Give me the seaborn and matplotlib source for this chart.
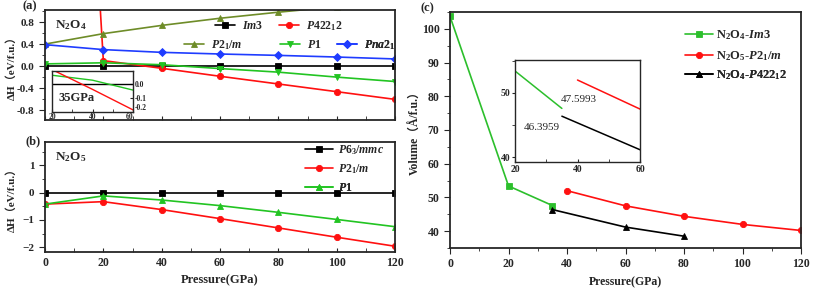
import numpy as np
import pandas as pd
import matplotlib
matplotlib.use("Agg")
import matplotlib.pyplot as plt
from matplotlib.ticker import MultipleLocator
import seaborn as sns

# ---------------- data ----------------
pressure = [0, 20, 40, 60, 80, 100, 120]

# (a) N2O4 enthalpy differences (eV/f.u.)
a_im3 = [0.0, 0.0, 0.0, 0.0, 0.0, 0.0, 0.0]
a_p4222 = [18.0, 0.10, -0.04, -0.185, -0.325, -0.465, -0.605]
a_p21m = [0.40, 0.59, 0.74, 0.87, 0.98, 1.08, 1.18]
a_p1 = [0.04, 0.06, 0.025, -0.045, -0.11, -0.20, -0.28]
a_pna21 = [0.39, 0.30, 0.25, 0.22, 0.195, 0.165, 0.13]

# (b) N2O5 enthalpy differences (eV/f.u.)
b_p63mmc = [0.0, 0.0, 0.0, 0.0, 0.0, 0.0, 0.0]
b_p21m = [-0.42, -0.33, -0.62, -0.95, -1.29, -1.63, -1.96]
b_p1 = [-0.42, -0.12, -0.27, -0.475, -0.72, -0.98, -1.245]

# (c) volumes (A^3/f.u.)
c_im3_p = [0, 20, 35]
c_im3_v = [103.7, 53.4, 47.5993]
c_p21m_p = [40, 60, 80, 100, 120]
c_p21m_v = [52.0, 47.5, 44.4, 42.0, 40.2]
c_p4222_p = [35, 60, 80]
c_p4222_v = [46.3959, 41.2, 38.5]

labels_a = [r"$\mathit{Im3}$", r"$\mathit{P422_12}$", r"$\mathit{P2_1/m}$",
            r"$\mathit{P1}$", r"$\mathit{Pna2_1}$"]
labels_b = [r"$\mathit{P6_3/mmc}$", r"$\mathit{P2_1/m}$", r"$\mathit{P1}$"]
labels_c = [r"N$_2$O$_4$-$\mathit{Im3}$", r"N$_2$O$_5$-$\mathit{P2_1/m}$",
            r"N$_2$O$_4$-$\mathit{P422_12}$"]

# ---------------- style ----------------
sns.set_style("ticks")
plt.rcParams["font.family"] = ["Liberation Serif", "Noto Sans CJK SC"]
plt.rcParams["font.weight"] = "bold"
plt.rcParams["axes.labelweight"] = "bold"
plt.rcParams["mathtext.fontset"] = "custom"
plt.rcParams["mathtext.rm"] = "Liberation Serif:bold"
plt.rcParams["mathtext.it"] = "Liberation Serif:italic:bold"
plt.rcParams["mathtext.bf"] = "Liberation Serif:bold"
plt.rcParams["axes.linewidth"] = 1.3

BLACK = "#000000"
RED = "#ff1010"
OLIVE = "#6e8c28"
GREEN = "#22c422"
BLUE = "#1f3cff"
CGREEN = "#2cbf2c"

W, H = 813, 292
fig = plt.figure(figsize=(W / 100, H / 100), dpi=100)


def rect(l, t, r, b):
    return [l / W, 1 - b / H, (r - l) / W, (b - t) / H]


def draw(ax, x, y, color, marker=None, ms=4.5, lw=1.2):
    kw = dict(marker=marker, markersize=ms, markeredgecolor=color,
              markeredgewidth=0.6) if marker else {}
    sns.lineplot(x=x, y=y, ax=ax, color=color, linewidth=lw, legend=False,
                 errorbar=None, sort=False, **kw)
    return ax.lines[-1]


def entry(ax, handle, label, px, py, hl=1.7, pad=0.6, fs=8.5):
    leg = ax.legend([handle], [label], loc="center left",
                    bbox_to_anchor=(px / W, 1 - py / H),
                    bbox_transform=fig.transFigure, frameon=False,
                    borderpad=0, borderaxespad=0, handlelength=hl,
                    handletextpad=pad, prop={"size": fs, "weight": "bold"})
    ax.add_artist(leg)


# ---------------- panel (a) ----------------
ax_a = fig.add_axes(rect(45, 10, 395, 120))
h_im3 = draw(ax_a, pressure, a_im3, BLACK, "s")
h_p4222 = draw(ax_a, pressure, a_p4222, RED, "o")
h_p21m = draw(ax_a, pressure, a_p21m, OLIVE, "^")
h_p1 = draw(ax_a, pressure, a_p1, GREEN, "v")
h_pna = draw(ax_a, pressure, a_pna21, BLUE, "D", ms=4)
ax_a.set_xlim(0, 120)
ax_a.set_ylim(-0.98, 1.02)
ax_a.set_yticks([-0.8, -0.4, 0.0, 0.4, 0.8])
ax_a.set_yticklabels(["-0.8", "-0.4", "0.0", "0.4", "0.8"])
ax_a.yaxis.set_minor_locator(MultipleLocator(0.2))
ax_a.xaxis.set_major_locator(MultipleLocator(20))
ax_a.xaxis.set_minor_locator(MultipleLocator(10))
ax_a.tick_params(axis="x", which="both", direction="in", length=3,
                 labelbottom=False)
ax_a.tick_params(axis="y", which="major", direction="out", length=4,
                 labelsize=8)
ax_a.tick_params(axis="y", which="minor", direction="out", length=2)
ax_a.set_xlabel("")
ax_a.set_ylabel("ΔH（eV/f.u.）", fontsize=8, weight="bold")
ax_a.yaxis.set_label_coords(-0.082, 0.5)
ax_a.text(55 / W, 1 - 25 / H, r"N$_2$O$_4$", transform=fig.transFigure,
          fontsize=9.5, weight="bold", va="center", ha="left")
entry(ax_a, h_im3, labels_a[0], 215, 26)
entry(ax_a, h_p4222, labels_a[1], 279, 26)
entry(ax_a, h_p21m, labels_a[2], 184, 45)
entry(ax_a, h_p1, labels_a[3], 280, 45)
entry(ax_a, h_pna, labels_a[4], 337, 45)

# inset (a)
ins_a = fig.add_axes(rect(52, 71, 133, 112))
ins_a.set_facecolor("white")
draw(ins_a, pressure, a_im3, BLACK, lw=1.0)
draw(ins_a, pressure, a_p1, GREEN, lw=1.0)
draw(ins_a, pressure, a_p4222, RED, lw=1.0)
ins_a.set_xlim(20, 60)
ins_a.set_ylim(-0.2, 0.09)
ins_a.set_xticks([20, 40, 60])
ins_a.set_xticklabels(["20", "40", "60"])
ins_a.xaxis.set_minor_locator(MultipleLocator(10))
ins_a.set_yticks([0.0, -0.1, -0.2])
ins_a.set_yticklabels(["0.0", "-0.1", "-0.2"])
ins_a.yaxis.tick_right()
ins_a.tick_params(axis="both", which="both", direction="in", length=2,
                  labelsize=5.5, pad=1)
ins_a.get_yticklabels()[-1].set_va("bottom")
ins_a.get_xticklabels()[-1].set_ha("right")
ins_a.set_xlabel("")
ins_a.set_ylabel("")
for s in ins_a.spines.values():
    s.set_linewidth(1.0)
ins_a.text(0.08, 0.35, "35GPa", transform=ins_a.transAxes, fontsize=9,
           weight="bold", va="center", ha="left")

# ---------------- panel (b) ----------------
ax_b = fig.add_axes(rect(45, 142, 395, 252))
hb0 = draw(ax_b, pressure, b_p63mmc, BLACK, "s")
hb1 = draw(ax_b, pressure, b_p21m, RED, "o")
hb2 = draw(ax_b, pressure, b_p1, GREEN, "^")
ax_b.set_xlim(0, 120)
ax_b.set_ylim(-2.17, 1.85)
ax_b.set_yticks([-2, -1, 0, 1])
ax_b.yaxis.set_minor_locator(MultipleLocator(0.5))
ax_b.xaxis.set_major_locator(MultipleLocator(20))
ax_b.xaxis.set_minor_locator(MultipleLocator(10))
ax_b.tick_params(axis="x", which="both", direction="in", length=3,
                 labelsize=8.5)
ax_b.tick_params(axis="y", which="major", direction="out", length=4,
                 labelsize=8)
ax_b.tick_params(axis="y", which="minor", direction="out", length=2)
ax_b.set_xlabel("Pressure(GPa)", fontsize=9, weight="bold")
ax_b.set_ylabel("ΔH（eV/f.u.）", fontsize=8, weight="bold")
ax_b.yaxis.set_label_coords(-0.082, 0.5)
ax_b.text(55 / W, 1 - 157 / H, r"N$_2$O$_5$", transform=fig.transFigure,
          fontsize=9.5, weight="bold", va="center", ha="left")
entry(ax_b, hb0, labels_b[0], 305, 150, hl=2.4, pad=0.4)
entry(ax_b, hb1, labels_b[1], 305, 169, hl=2.4, pad=0.4)
entry(ax_b, hb2, labels_b[2], 305, 188, hl=2.4, pad=0.4)

# ---------------- panel (c) ----------------
ax_c = fig.add_axes(rect(450, 12, 801, 248))
hc0 = draw(ax_c, c_im3_p, c_im3_v, CGREEN, "s")
hc1 = draw(ax_c, c_p21m_p, c_p21m_v, RED, "o")
hc2 = draw(ax_c, c_p4222_p, c_p4222_v, BLACK, "^")
ax_c.set_xlim(0, 120)
ax_c.set_ylim(35, 105)
ax_c.set_yticks([40, 50, 60, 70, 80, 90, 100])
ax_c.yaxis.set_minor_locator(MultipleLocator(5))
ax_c.xaxis.set_major_locator(MultipleLocator(20))
ax_c.xaxis.set_minor_locator(MultipleLocator(10))
ax_c.tick_params(axis="both", which="major", direction="out", length=4,
                 labelsize=8.5)
ax_c.tick_params(axis="both", which="minor", direction="out", length=2)
ax_c.set_xlabel("Pressure(GPa)", fontsize=8.5, weight="bold")
ax_c.set_ylabel("Volume（Å/f.u.）", fontsize=8.5, weight="bold")
ax_c.yaxis.set_label_coords(-0.082, 0.5)
entry(ax_c, hc0, labels_c[0], 685, 35, hl=2.2, pad=0.3, fs=9)
entry(ax_c, hc1, labels_c[1], 685, 56, hl=2.2, pad=0.3, fs=9)
entry(ax_c, hc2, labels_c[2], 685, 75, hl=2.2, pad=0.3, fs=9)

# inset (c)
ins_c = fig.add_axes(rect(515, 60, 640, 162))
ins_c.set_facecolor("white")
draw(ins_c, c_im3_p, c_im3_v, CGREEN, lw=1.1)
draw(ins_c, c_p21m_p, c_p21m_v, RED, lw=1.1)
draw(ins_c, c_p4222_p, c_p4222_v, BLACK, lw=1.1)
ins_c.set_xlim(20, 60)
ins_c.set_ylim(39.3, 55.1)
ins_c.set_xticks([20, 40, 60])
ins_c.xaxis.set_minor_locator(MultipleLocator(10))
ins_c.set_yticks([40, 50])
ins_c.yaxis.set_minor_locator(MultipleLocator(5))
ins_c.tick_params(axis="x", which="both", direction="in", length=2.5,
                  labelsize=7, pad=2)
ins_c.tick_params(axis="y", which="both", direction="out", length=2.5,
                  labelsize=7, pad=1)
ins_c.set_xlabel("")
ins_c.set_ylabel("")
for s in ins_c.spines.values():
    s.set_linewidth(1.0)
ins_c.text(561 / W, 1 - 99 / H, "47.5993", transform=fig.transFigure,
           fontsize=8, weight="normal", va="center", ha="left")
ins_c.text(524 / W, 1 - 128 / H, "46.3959", transform=fig.transFigure,
           fontsize=8, weight="normal", va="center", ha="left")

# panel labels
fig.text(22 / W, 1 - 6 / H, "(a)", fontsize=9, weight="bold", va="center")
fig.text(25 / W, 1 - 141 / H, "(b)", fontsize=9, weight="bold", va="center")
fig.text(420 / W, 1 - 8 / H, "(c)", fontsize=9, weight="bold", va="center")

fig.savefig("out.png", dpi=100)
